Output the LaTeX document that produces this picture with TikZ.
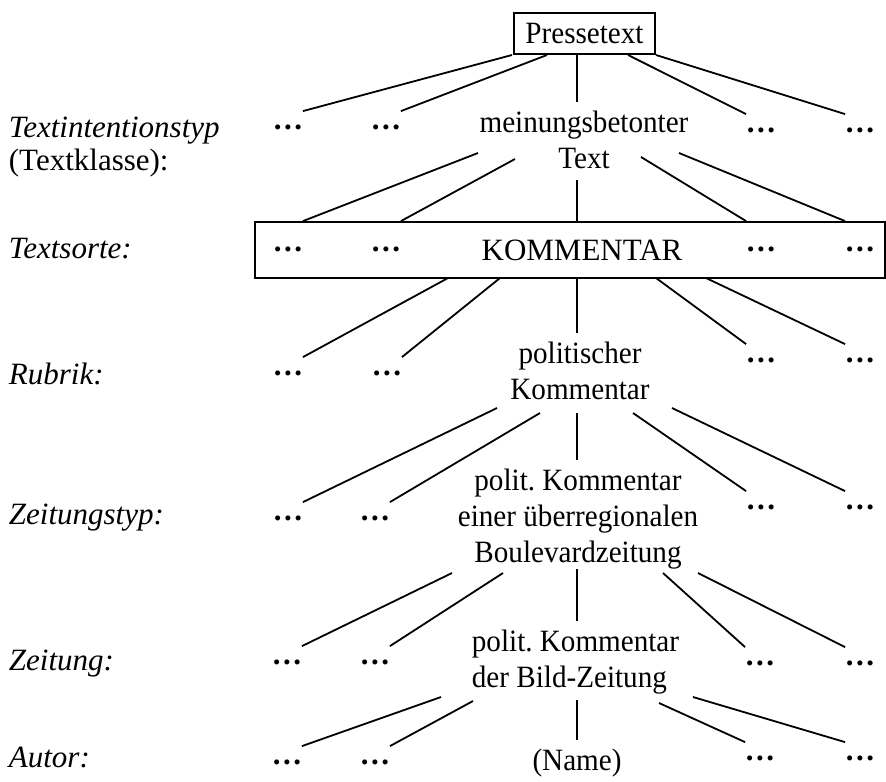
\documentclass[tikz,border=0pt]{standalone}
\usepackage{fontspec}
\setmainfont{Liberation Serif}
\newfontfamily\condfont[FakeStretch=0.94]{Liberation Serif}
\newcommand{\tdots}{.\kern1.2pt.\kern1.2pt.}
\begin{document}
\begin{tikzpicture}[x=0.5pt,y=-0.5pt,line width=0.9pt,
  fnt/.style={font=\fontsize{15.5}{18}\selectfont},
  cfnt/.style={font=\fontsize{15.5}{18}\condfont},
  txt/.style={cfnt,inner sep=4pt,align=center,anchor=base},
  lbl/.style={fnt,inner sep=0pt,anchor=base west},
  boxed/.style={draw,line width=0.9pt,inner sep=0pt},
  dts/.style={font=\fontsize{15.5}{18}\selectfont\bfseries,inner sep=0pt,minimum width=9pt,minimum height=15pt},
  conn/.style={line width=0.9pt}]
\useasboundingbox (0,0) rectangle (886,781);

% left labels
\node[lbl] (l1) at (8,137) {\itshape Textintentionstyp};
\node[lbl] (l1b) at (8,170) {(Textklasse):};
\node[lbl] (l2) at (8,258) {\itshape Textsorte:};
\node[lbl] (l3) at (8,384) {\itshape Rubrik:};
\node[lbl] (l4) at (8,524) {\itshape Zeitungstyp:};
\node[lbl] (l5) at (8,670) {\itshape Zeitung:};
\node[lbl] (l6) at (8,767) {\itshape Autor:};

% level 0
\node[boxed,cfnt,minimum width=70.5pt,minimum height=20.5pt] (pt) at (584.5,33.5) {Pressetext};

% level 1
\node[txt] (mt) at (584,168) {meinungsbetonter\\Text};
\node[dts] (d11) at (288,127) {\tdots};
\node[dts] (d12) at (386,127) {\tdots};
\node[dts] (d13) at (761,130) {\tdots};
\node[dts] (d14) at (860,130) {\tdots};

% level 2 (Textsorte box)
\node[boxed,minimum width=315pt,minimum height=28pt] (ks) at (570,250) {};
\node[txt,fnt] (km) at (582,260) {KOMMENTAR};
\node[dts] (d21) at (288,249) {\tdots};
\node[dts] (d22) at (386,249) {\tdots};
\node[dts] (d23) at (761,249) {\tdots};
\node[dts] (d24) at (860,249) {\tdots};

% level 3
\node[txt] (pk) at (580,399) {politischer\\Kommentar};
\node[dts] (d31) at (288,373) {\tdots};
\node[dts] (d32) at (387,373) {\tdots};
\node[dts] (d33) at (761,360) {\tdots};
\node[dts] (d34) at (860,360) {\tdots};

% level 4
\node[txt] (pb) at (578,562) {polit.~Kommentar\\einer überregionalen\\Boulevardzeitung};
\node[dts] (d41) at (288,518) {\tdots};
\node[dts] (d42) at (375,518) {\tdots};
\node[dts] (d43) at (761,507) {\tdots};
\node[dts] (d44) at (860,507) {\tdots};

% level 5
\node[txt,align=left,anchor=base west] (pz) at (463,687) {polit.~Kommentar\\der~Bild-Zeitung};
\node[dts] (d51) at (287,662) {\tdots};
\node[dts] (d52) at (375,662) {\tdots};
\node[dts] (d53) at (760,663) {\tdots};
\node[dts] (d54) at (860,663) {\tdots};

% level 6
\node[txt] (nm) at (577,770) {(Name)};
\node[dts] (d61) at (287,762) {\tdots};
\node[dts] (d62) at (375,762) {\tdots};
\node[dts] (d63) at (760,758) {\tdots};
\node[dts] (d64) at (860,758) {\tdots};

% connector start points
\coordinate (a1) at (512,55);
\coordinate (a2) at (547,55);
\coordinate (a3) at (577,54);
\coordinate (a4) at (628,55);
\coordinate (a5) at (656,55);

\coordinate (b1) at (478,153);
\coordinate (b2) at (515,159);
\coordinate (b3) at (577,180);
\coordinate (b4) at (641,157);
\coordinate (b5) at (679,153);

\coordinate (c1) at (448,278);
\coordinate (c2) at (500,278);
\coordinate (c3) at (577,278);
\coordinate (c4) at (656,278);
\coordinate (c5) at (706,278);

\coordinate (e1) at (497,408);
\coordinate (e2) at (540,413);
\coordinate (e3) at (577,413);
\coordinate (e4) at (633,413);
\coordinate (e5) at (672,408);

\coordinate (f1) at (452,573);
\coordinate (f2) at (503,573);
\coordinate (f3) at (577,569);
\coordinate (f4) at (663,573);
\coordinate (f5) at (698,573);

\coordinate (g1) at (441,697);
\coordinate (g2) at (473,701);
\coordinate (g3) at (577,700);
\coordinate (g4) at (659,703);
\coordinate (g5) at (693,697);

% connectors
\draw[conn] (a1) -- (d11.north east);
\draw[conn] (a2) -- (d12.north east);
\draw[conn] (a3) -- (a3 |- mt.north);
\draw[conn] (a4) -- (d13.north west);
\draw[conn] (a5) -- (d14.north west);

\draw[conn] (b1) -- (d21.north east |- ks.north);
\draw[conn] (b2) -- (d22.north east |- ks.north);
\draw[conn] (b3) -- (b3 |- ks.north);
\draw[conn] (b4) -- (d23.north west |- ks.north);
\draw[conn] (b5) -- (d24.north west |- ks.north);

\draw[conn] (c1) -- (d31.north east);
\draw[conn] (c2) -- (d32.north east);
\draw[conn] (c3) -- (c3 |- pk.north);
\draw[conn] (c4) -- (d33.north west);
\draw[conn] (c5) -- (d34.north west);

\draw[conn] (e1) -- (d41.north east);
\draw[conn] (e2) -- (d42.north east);
\draw[conn] (e3) -- (e3 |- pb.north);
\draw[conn] (e4) -- (d43.north west);
\draw[conn] (e5) -- (d44.north west);

\draw[conn] (f1) -- (d51.north east);
\draw[conn] (f2) -- (d52.north east);
\draw[conn] (f3) -- (f3 |- pz.north);
\draw[conn] (f4) -- (d53.north west);
\draw[conn] (f5) -- (d54.north west);

\draw[conn] (g1) -- (d61.north east);
\draw[conn] (g2) -- (d62.north east);
\draw[conn] (g3) -- (g3 |- nm.north);
\draw[conn] (g4) -- (d63.north west);
\draw[conn] (g5) -- (d64.north west);
\end{tikzpicture}
\end{document}
